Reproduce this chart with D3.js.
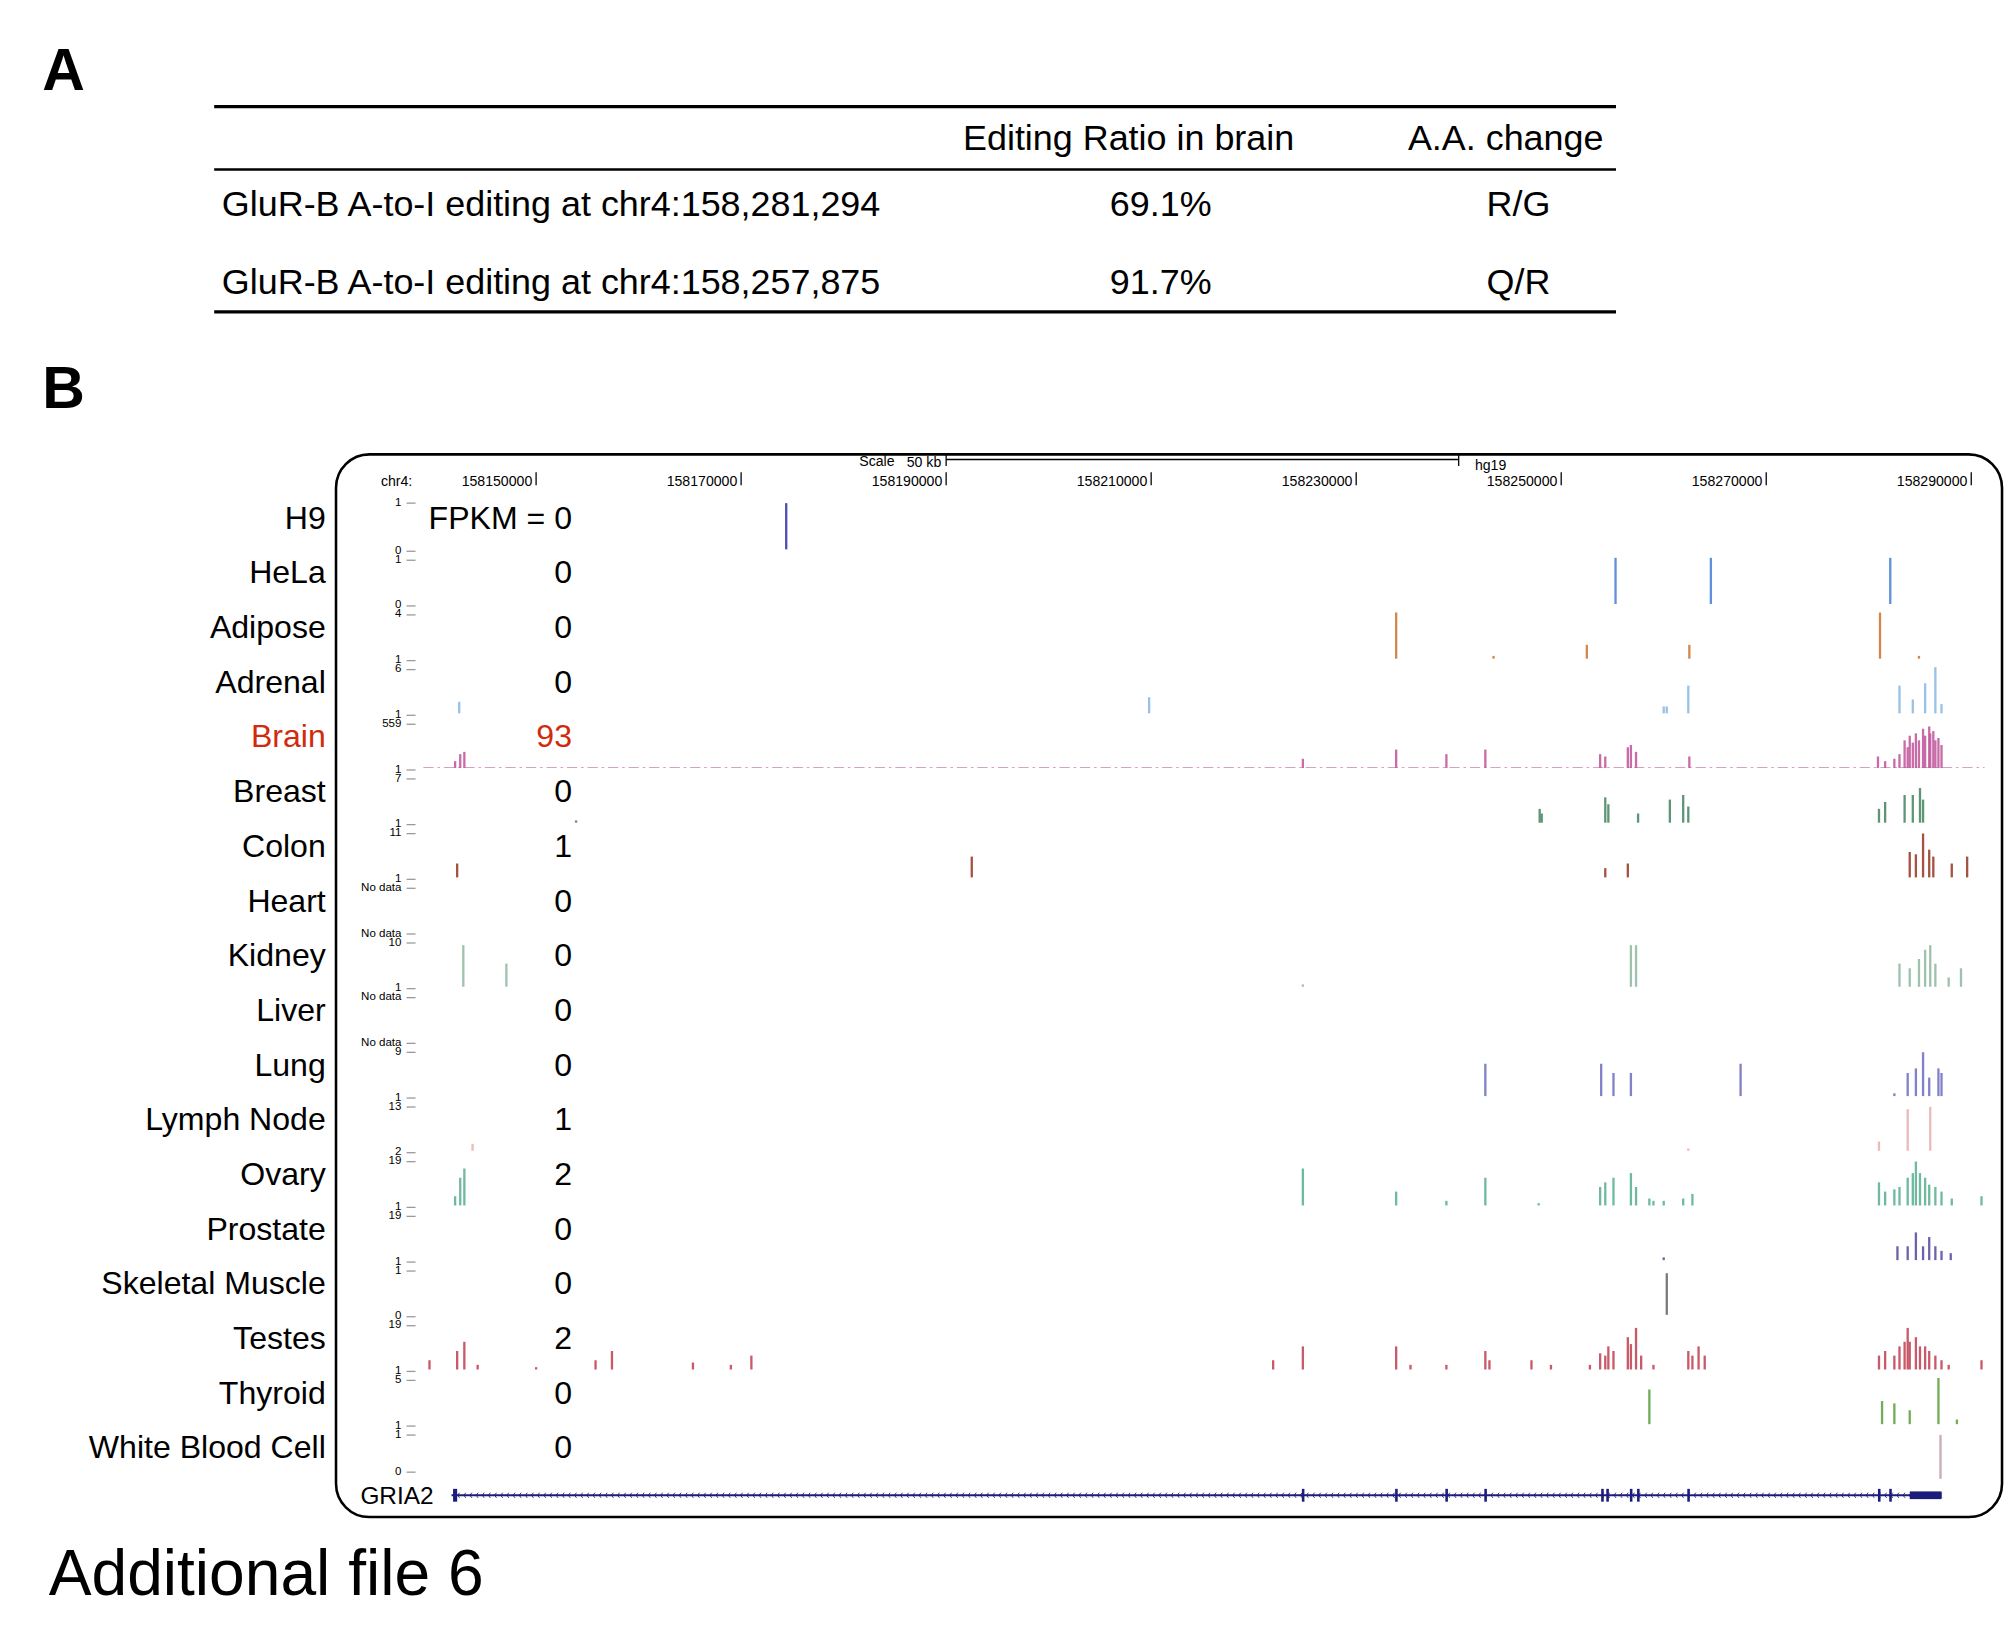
<!DOCTYPE html>
<html><head><meta charset="utf-8">
<script src="https://cdn.jsdelivr.net/npm/d3@7"></script>
<style>body{margin:0;background:#fff}text{font-family:"Liberation Sans",Arial,sans-serif}</style>
</head><body><svg id="c"></svg>
<script>
// ---- data ----
const tableHeader = ["", "Editing Ratio in brain", "A.A. change"];
const tableRows = [
  ["GluR-B A-to-I editing at chr4:158,281,294", "69.1%", "R/G"],
  ["GluR-B A-to-I editing at chr4:158,257,875", "91.7%", "Q/R"]
];
const tissues = ["H9","HeLa","Adipose","Adrenal","Brain","Breast","Colon","Heart","Kidney","Liver","Lung","Lymph Node","Ovary","Prostate","Skeletal Muscle","Testes","Thyroid","White Blood Cell"];
const fpkm = ["FPKM = 0","0","0","0","93","0","1","0","0","0","0","1","2","0","0","2","0","0"];
const colors = ["#3a3aa8","#4f86d8","#cf7a3a","#8dbbe3","#c25c9e","#4d8a68","#9a3f2c","#ffffff","#93bba4","#ffffff","#7474c2","#eab3b3","#5fb395","#6150a3","#6d6d6d","#c2485a","#62a346","#c3a2b4"];
const scaleUpper = ["0","0","1","1","1","1","1","No data","1","No data","1","2","1","1","0","1","1"];
const scaleLower = ["1","4","6","559","7","11","No data","10","No data","9","13","19","19","1","19","5","1"];
const tickPositions = [158150000,158170000,158190000,158210000,158230000,158250000,158270000,158290000];
// peaks: [position in kb past 158,000,000, relative height]
const peaks = [
 [[174.4,1]],
 [[255.3,1],[264.6,1],[282.1,1]],
 [[233.9,1],[243.4,0.06],[252.5,0.3],[262.5,0.3],[281.1,1],[284.9,0.06]],
 [[142.5,0.25],[209.8,0.35],[260.0,0.15],[260.3,0.15],[262.4,0.6],[283.0,0.6],[284.3,0.3],[285.5,0.65],[286.5,1],[287.1,0.2]],
 [[142.1,0.15],[142.6,0.3],[143.0,0.35],[224.8,0.2],[233.9,0.4],[238.8,0.3],[242.6,0.4],[253.8,0.3],[254.3,0.25],[256.5,0.45],[256.8,0.5],[257.3,0.35],[262.5,0.25],[280.9,0.25],[281.6,0.15],[282.5,0.2],[283.0,0.3],[283.5,0.6],[283.8,0.45],[284.0,0.7],[284.3,0.55],[284.6,0.75],[284.9,0.6],[285.3,0.85],[285.5,0.7],[285.9,0.9],[286.0,0.75],[286.3,0.8],[286.5,0.6],[286.8,0.65],[287.1,0.5]],
 [[153.9,0.05],[247.9,0.3],[248.1,0.2],[254.3,0.55],[254.6,0.4],[257.5,0.2],[260.6,0.5],[261.9,0.6],[262.4,0.35],[281.0,0.3],[281.6,0.45],[283.5,0.6],[284.3,0.6],[285.0,0.75],[285.3,0.5]],
 [[142.3,0.3],[192.5,0.45],[254.3,0.2],[256.5,0.3],[284.0,0.55],[284.6,0.5],[285.3,0.95],[285.9,0.6],[286.3,0.45],[288.1,0.3],[289.6,0.45]],
 [],
 [[142.9,0.9],[147.1,0.5],[224.8,0.05],[256.8,0.9],[257.3,0.9],[283.0,0.5],[284.0,0.4],[284.9,0.6],[285.5,0.8],[286.0,0.9],[286.5,0.5],[287.8,0.2],[289.0,0.4]],
 [],
 [[242.6,0.7],[253.9,0.7],[255.1,0.5],[256.8,0.5],[267.5,0.7],[282.5,0.06],[283.8,0.5],[284.6,0.6],[285.3,0.95],[285.9,0.4],[286.8,0.6],[287.1,0.5]],
 [[143.8,0.15],[262.4,0.05],[281.0,0.2],[283.8,0.9],[286.0,0.95]],
 [[142.1,0.2],[142.6,0.6],[143.0,0.8],[224.8,0.8],[233.9,0.3],[238.8,0.1],[242.6,0.6],[247.8,0.05],[253.8,0.4],[254.3,0.5],[255.1,0.6],[256.8,0.7],[257.3,0.4],[258.6,0.15],[259.0,0.1],[260.0,0.1],[261.9,0.15],[262.8,0.25],[281.0,0.5],[281.6,0.3],[282.5,0.35],[283.0,0.4],[283.8,0.6],[284.3,0.7],[284.6,0.95],[285.0,0.7],[285.5,0.6],[285.9,0.45],[286.5,0.4],[287.1,0.3],[288.1,0.15],[291.0,0.2]],
 [[260.0,0.06],[282.8,0.3],[283.8,0.3],[284.6,0.6],[285.3,0.3],[285.9,0.5],[286.5,0.3],[287.1,0.2],[288.0,0.15]],
 [[260.3,0.9]],
 [[139.6,0.2],[142.3,0.4],[143.0,0.6],[144.3,0.1],[150.0,0.05],[155.8,0.2],[157.4,0.4],[165.3,0.15],[169.0,0.1],[171.0,0.3],[221.9,0.2],[224.8,0.5],[233.9,0.5],[235.3,0.1],[238.8,0.1],[242.6,0.4],[243.0,0.2],[247.1,0.2],[249.0,0.1],[252.8,0.1],[253.8,0.35],[254.3,0.3],[254.6,0.5],[255.1,0.4],[256.5,0.7],[256.8,0.55],[257.3,0.9],[257.8,0.3],[259.0,0.1],[262.4,0.4],[262.8,0.3],[263.4,0.5],[264.0,0.3],[281.0,0.3],[281.6,0.4],[282.5,0.3],[283.0,0.5],[283.5,0.6],[283.8,0.9],[284.0,0.6],[284.6,0.7],[285.0,0.5],[285.5,0.5],[285.9,0.4],[286.5,0.3],[287.1,0.2],[287.8,0.1],[291.0,0.2]],
 [[258.6,0.75],[281.3,0.5],[282.5,0.45],[284.0,0.3],[286.8,1.0],[288.6,0.1]],
 [[287.0,0.95]]
];
const geneName = "GRIA2";
const geneSpan = [141.75, 287.1];
const exons = [[141.9,142.3],[224.7,224.9],[233.8,234.0],[238.7,238.9],[242.5,242.7],[253.9,254.1],[254.4,254.6],[256.7,256.9],[257.4,257.6],[262.3,262.5],[280.9,281.1],[282.0,282.2],[284.0,287.1]];

// ---- drawing ----
const W=1568,H=1284;
const svg=d3.select("#c").attr("width",2011).attr("height",1648)
  .attr("viewBox",`0 0 ${W} ${H}`).attr("preserveAspectRatio","none");
svg.append("rect").attr("width",W).attr("height",H).attr("fill","#fff");

svg.append("text").attr("x",33).attr("y",70).attr("font-size",46).attr("font-weight","bold").text("A");
svg.append("text").attr("x",33).attr("y",318).attr("font-size",46).attr("font-weight","bold").text("B");
svg.append("text").attr("x",38).attr("y",1243).attr("font-size",50).text("Additional file 6");

// table
[[83,2.5],[132,2],[243,2.5]].forEach(([y,w])=>svg.append("line").attr("x1",167).attr("x2",1260).attr("y1",y).attr("y2",y).attr("stroke","#000").attr("stroke-width",w));
const anchors=["start","middle","middle"];
const hdrX=[173,880,1174], rowX=[173,905,1184];
tableHeader.forEach((t,i)=>svg.append("text").attr("x",hdrX[i]).attr("y",117).attr("font-size",28).attr("text-anchor",anchors[i]).text(t));
tableRows.forEach((r,j)=>r.forEach((t,i)=>svg.append("text").attr("x",rowX[i]).attr("y",168+61*j).attr("font-size",28).attr("text-anchor",anchors[i]).text(t)));

// frame
svg.append("rect").attr("x",262).attr("y",354).attr("width",1299).attr("height",828).attr("rx",26).attr("fill","none").attr("stroke","#000").attr("stroke-width",2);

const x=d3.scaleLinear().domain([158150000,158290000]).range([418,1537]);
const kb=v=>x(158000000+v*1000);

// scale bar
svg.append("text").attr("x",670).attr("y",363).attr("font-size",11).text("Scale");
svg.append("text").attr("x",707).attr("y",364).attr("font-size",11).text("50 kb");
const sb=[x(158190000),x(158240000)];
svg.append("line").attr("x1",sb[0]).attr("x2",sb[1]).attr("y1",358).attr("y2",358).attr("stroke","#000");
sb.forEach(v=>svg.append("line").attr("x1",v).attr("x2",v).attr("y1",353).attr("y2",363).attr("stroke","#000"));
svg.append("text").attr("x",1150).attr("y",366).attr("font-size",11).text("hg19");
svg.append("text").attr("x",297).attr("y",379).attr("font-size",11).text("chr4:");
tickPositions.forEach(p=>{
  svg.append("line").attr("x1",x(p)).attr("x2",x(p)).attr("y1",368).attr("y2",378).attr("stroke","#000");
  svg.append("text").attr("x",x(p)-3).attr("y",379).attr("font-size",11).attr("text-anchor","end").text(p);
});

// tracks
const base=i=>428+42.6*i, TH=36;
const y=d3.scaleLinear().domain([0,1]).range([0,TH]);
// brain background coverage
svg.append("line").attr("x1",kb(139)).attr("x2",kb(291.3)).attr("y1",base(4)-0.5).attr("y2",base(4)-0.5)
  .attr("stroke","#d9a0c6").attr("stroke-width",0.8).attr("stroke-dasharray","8,3,2,3");
tissues.forEach((t,i)=>{
  const b=base(i);
  svg.append("text").attr("x",254).attr("y",b-16).attr("font-size",25).attr("text-anchor","end")
    .attr("fill",t==="Brain"?"#d22a0c":"#000").text(t);
  svg.append("text").attr("x",446).attr("y",b-16).attr("font-size",25).attr("text-anchor","end")
    .attr("fill",t==="Brain"?"#d22a0c":"#000").text(fpkm[i]);
  svg.append("g").selectAll("rect").data(peaks[i]).join("rect")
    .attr("x",d=>kb(d[0])-0.9).attr("width",1.8)
    .attr("y",d=>b-y(d[1])).attr("height",d=>Math.max(1.2,y(d[1])))
    .attr("fill",colors[i]).attr("opacity",0.9);
});

// scale labels
const g=svg.append("g").attr("font-size",9).attr("text-anchor","end");
const tick=yy=>g.append("line").attr("x1",317).attr("x2",324).attr("y1",yy).attr("y2",yy).attr("stroke","#999");
g.append("text").attr("x",313).attr("y",394).text("1"); tick(392);
scaleUpper.forEach((u,k)=>{
  const yy=433.5+42.6*k;
  g.append("text").attr("x",313).attr("y",yy-2).text(u); tick(yy-4);
  g.append("text").attr("x",313).attr("y",yy+5).text(scaleLower[k]); tick(yy+3);
});
g.append("text").attr("x",313).attr("y",1149).text("0"); tick(1147);

// gene track
const gy=1165;
svg.append("text").attr("x",281).attr("y",gy+7).attr("font-size",19).text(geneName);
svg.append("line").attr("x1",kb(geneSpan[0])).attr("x2",kb(geneSpan[1])).attr("y1",gy).attr("y2",gy).attr("stroke","#1c1c7a").attr("stroke-width",1.5);
const hatch=d3.range(geneSpan[0]+0.6,geneSpan[1],0.6);
svg.append("g").selectAll("path").data(hatch).join("path")
  .attr("d",d=>`M${kb(d)+1.5},${gy-2}L${kb(d)},${gy}L${kb(d)+1.5},${gy+2}`)
  .attr("stroke","#1c1c7a").attr("fill","none").attr("stroke-width",0.7);
svg.append("g").selectAll("rect").data(exons).join("rect")
  .attr("x",d=>kb(d[0])).attr("width",d=>Math.max(2,kb(d[1])-kb(d[0])))
  .attr("y",(d,i)=>i==exons.length-1?gy-3:gy-5).attr("height",(d,i)=>i==exons.length-1?6:10).attr("fill","#1c1c7a");
</script>
</body></html>
